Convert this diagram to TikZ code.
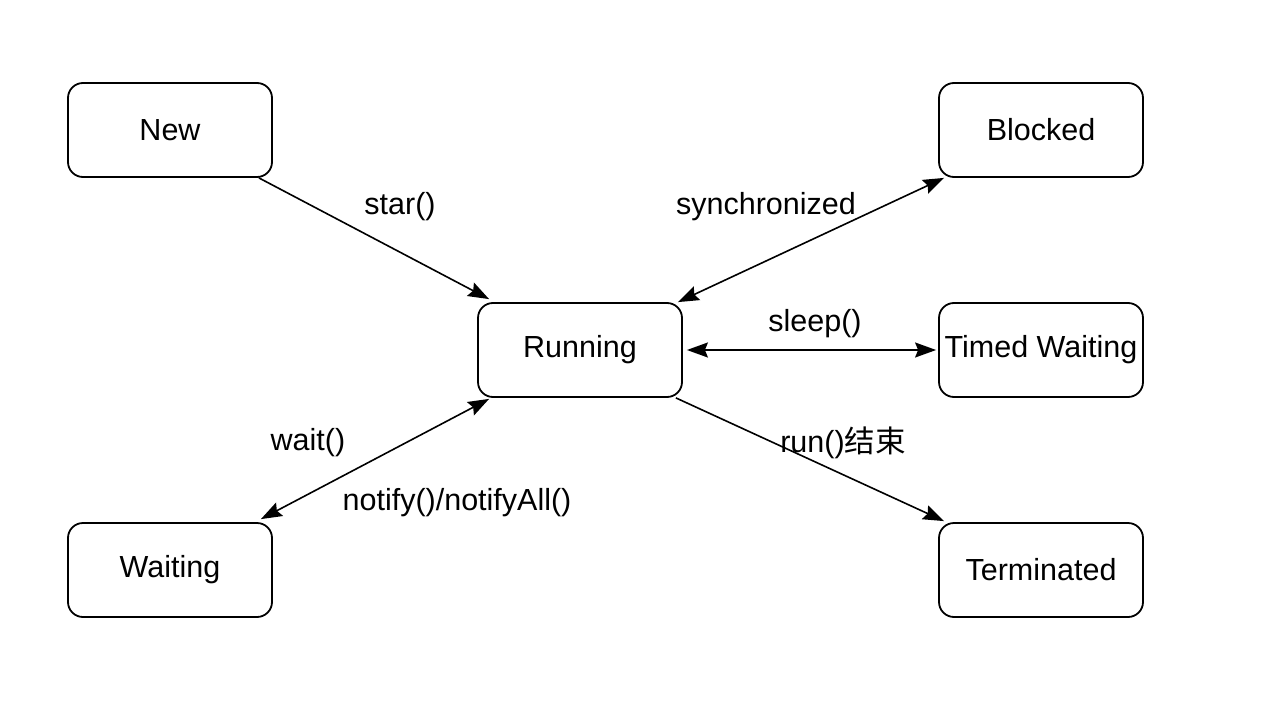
\documentclass[tikz,border=0pt]{standalone}
\usepackage{fontspec}
\setmainfont{Liberation Sans}
\newfontfamily\cjk{Noto Sans CJK SC}
\usetikzlibrary{arrows.meta,calc}
\begin{document}
\begin{tikzpicture}[x=1pt,y=-1pt,
  state/.style={draw=black, line width=1.8pt, rounded corners=15pt, minimum width=204pt, minimum height=94pt, inner sep=0pt, font=\fontsize{30.5}{34}\selectfont},
  lbl/.style={font=\fontsize{30.5}{34}\selectfont, inner sep=0pt},
  conn/.style={line width=1.6pt, draw=black},
  tip/.style={-{Stealth[length=21pt,width=15pt,inset=3pt]}},
  both/.style={{Stealth[length=21pt,width=15pt,inset=3pt]}-{Stealth[length=21pt,width=15pt,inset=3pt]}}
]
\useasboundingbox (0,0) rectangle (1282,706);
\node[state] (new) at (170,130) {New};
\node[state] (blocked) at (1041,130) {Blocked};
\node[state] (running) at (580,350) {Running};
\node[state] (timed) at (1041,350) {Timed Waiting};
\node[state] (waiting) at (170,570) {Waiting};
\node[state] (term) at (1041,570) {Terminated};

\draw[conn,tip] ($(new.south east)+(-14,0)$) -- ($(running.north west)+(12,-3)$);
\draw[conn,both] ($(running.north east)+(-5,0)$) -- ($(blocked.south west)+(6,0)$);
\draw[conn,both] ($(running.east)+(4,0)$) -- ($(timed.west)+(-2,0)$);
\draw[conn,tip] ($(running.south east)+(-7,0)$) -- ($(term.north west)+(6,-1)$);
\draw[conn,both] ($(running.south west)+(12,1)$) -- ($(waiting.north east)+(-12,-3)$);

\node[lbl] (l1) at (400,207) {star()};
\node[lbl] (l2) at (766,207) {synchronized};
\node[lbl] (l3) at (815,324) {sleep()};
\node[lbl] (l4) at (843,443) {run(){\cjk 结束}};
\node[lbl] (l5) at (308,443) {wait()};
\node[lbl] (l6) at (457,503) {notify()/notifyAll()};
\end{tikzpicture}
\end{document}
